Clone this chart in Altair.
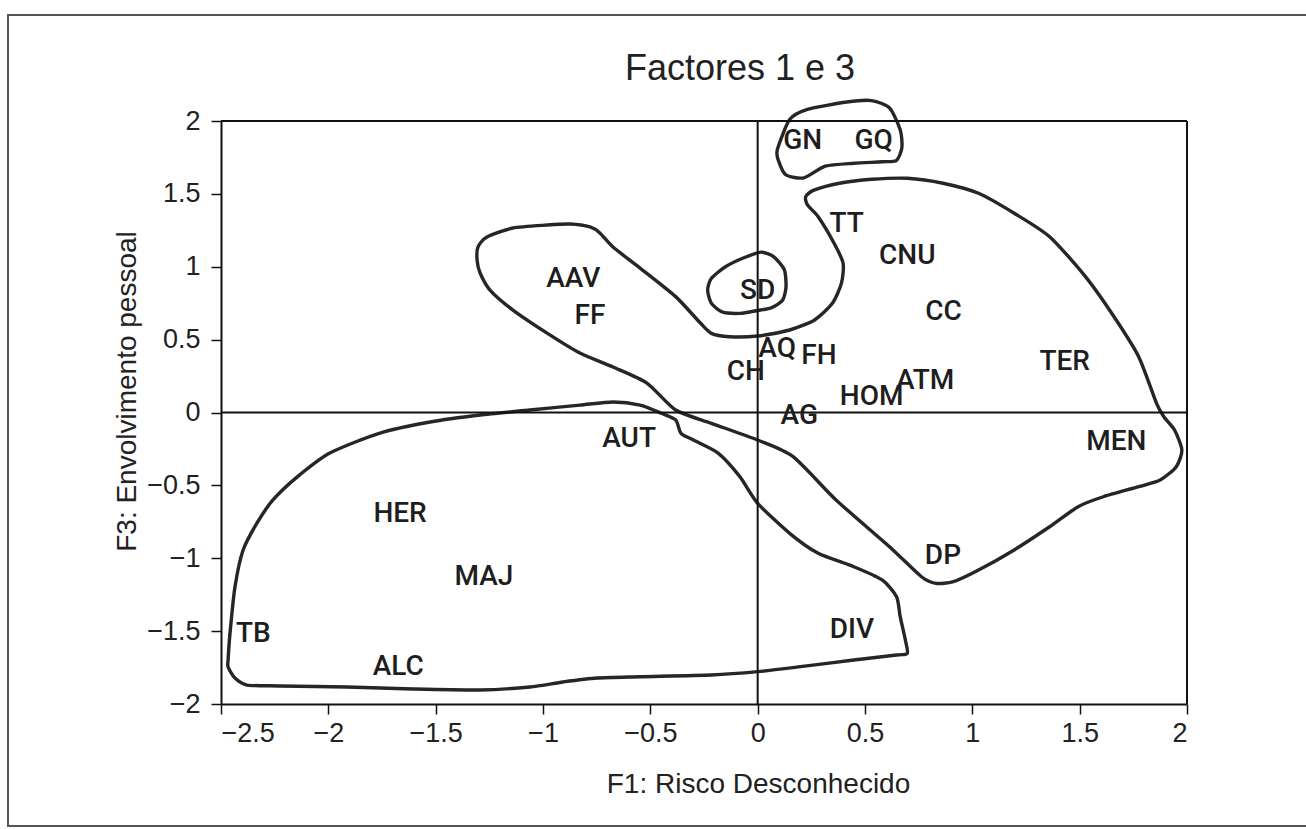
import altair as alt
import pandas as pd

# ---- point labels (F1, F3 coordinates) ----
labels = ["GN", "GQ", "TT", "CNU", "SD", "CC", "AQ", "FH", "CH", "TER", "ATM", "HOM",
          "AG", "MEN", "DP", "DIV", "AAV", "FF", "AUT", "HER", "MAJ", "TB", "ALC"]
f1 = [0.21, 0.54, 0.415, 0.697, 0.0, 0.866, 0.091, 0.285, -0.055, 1.43, 0.78, 0.531,
      0.194, 1.671, 0.863, 0.439, -0.859, -0.781, -0.599, -1.666, -1.275, -2.349, -1.674]
f3 = [1.864, 1.864, 1.293, 1.076, 0.836, 0.687, 0.436, 0.390, 0.276, 0.344, 0.218, 0.104,
      -0.022, -0.205, -0.982, -1.492, 0.916, 0.664, -0.182, -0.696, -1.131, -1.520, -1.748]

# ---- hand-drawn enclosures (F1, F3 coordinates) ----
gq_x = [0.091, 0.149, 0.232, 0.415, 0.531, 0.614, 0.664, 0.672, 0.647, 0.580, 0.448, 0.315, 0.215, 0.132, 0.099]
gq_y = [1.80, 2.01, 2.08, 2.13, 2.14, 2.09, 1.94, 1.82, 1.73, 1.72, 1.71, 1.69, 1.61, 1.63, 1.72]

sd_x = [-0.233, -0.216, -0.150, -0.067, 0.016, 0.074, 0.124, 0.132, 0.116, 0.066, 0.000, -0.083, -0.166, -0.216]
sd_y = [0.84, 0.92, 1.00, 1.06, 1.10, 1.07, 0.98, 0.86, 0.77, 0.72, 0.70, 0.68, 0.69, 0.75]

big_x = [-1.303, -1.261, -1.140, -0.981, -0.874, -0.781, -0.735, -0.674, -0.548, -0.382, -0.266, -0.216,
         -0.133, 0.000, 0.149, 0.265, 0.348, 0.390, 0.398, 0.356, 0.282, 0.232, 0.224, 0.265, 0.381,
         0.531, 0.697, 0.863, 1.029, 1.195, 1.360, 1.527, 1.660, 1.775, 1.858, 1.892, 1.942, 1.976,
         1.950, 1.875, 1.775, 1.610, 1.493, 1.360, 1.195, 1.029, 0.912, 0.830, 0.763, 0.614, 0.365,
         0.165, 0.000, -0.216, -0.382, -0.516, -0.674, -0.828, -0.981, -1.140, -1.247, -1.293, -1.307]
big_y = [1.135, 1.204, 1.266, 1.286, 1.293, 1.273, 1.232, 1.135, 0.991, 0.795, 0.612, 0.543,
         0.520, 0.525, 0.566, 0.635, 0.749, 0.886, 1.024, 1.161, 1.343, 1.424, 1.481, 1.527, 1.573,
         1.600, 1.607, 1.573, 1.504, 1.367, 1.206, 0.932, 0.657, 0.383, 0.063, -0.029, -0.120, -0.257,
         -0.372, -0.463, -0.509, -0.578, -0.646, -0.784, -0.943, -1.081, -1.161, -1.172, -1.127, -0.921, -0.600,
         -0.303, -0.189, -0.074, 0.017, 0.202, 0.312, 0.408, 0.545, 0.703, 0.840, 0.957, 1.046]

low_x = [-2.467, -2.458, -2.435, -2.397, -2.332, -2.258, -2.146, -1.993, -1.760, -1.526, -1.293, -1.061,
         -0.828, -0.674, -0.548, -0.449, -0.382, -0.357, -0.299, -0.183, -0.083, 0.000, 0.149, 0.282,
         0.448, 0.580, 0.647, 0.664, 0.688, 0.697, 0.647, 0.448, 0.199, 0.000, -0.216, -0.548, -0.749,
         -0.907, -1.061, -1.293, -1.605, -1.913, -2.225, -2.379, -2.435, -2.467]
low_y = [-1.698, -1.513, -1.197, -0.943, -0.758, -0.600, -0.443, -0.278, -0.141, -0.065, -0.017, 0.017,
         0.051, 0.072, 0.051, -0.005, -0.051, -0.143, -0.189, -0.280, -0.440, -0.623, -0.829, -0.966,
         -1.058, -1.149, -1.264, -1.401, -1.561, -1.652, -1.664, -1.698, -1.744, -1.778, -1.801, -1.813, -1.822,
         -1.849, -1.883, -1.904, -1.897, -1.883, -1.876, -1.870, -1.822, -1.746]

x_ticks = [-2.5, -2, -1.5, -1, -0.5, 0, 0.5, 1, 1.5, 2]
y_ticks = [-2, -1.5, -1, -0.5, 0, 0.5, 1, 1.5, 2]

title_text = "Factores 1 e 3"
x_title = "F1: Risco Desconhecido"
y_title = "F3: Envolvimento pessoal"

# ---- tables ----
pts = pd.DataFrame({"label": labels, "f1": f1, "f3": f3})
rows = []
for name, xs_, ys_ in [("gq", gq_x, gq_y), ("sd", sd_x, sd_y), ("big", big_x, big_y), ("low", low_x, low_y)]:
    for i, (a, b) in enumerate(zip(xs_, ys_)):
        rows.append({"grp": name, "i": i, "f1": a, "f3": b})
curves = pd.DataFrame(rows)
one = pd.DataFrame({"k": [0]})

W, H = 966, 583
L, T = 221, 121
FONT = "Liberation Sans, Arial, Helvetica, sans-serif"
LFONT = "Roboto, Liberation Sans, sans-serif"

xs = alt.Scale(domain=[-2.5, 2], nice=False, zero=False)
ys = alt.Scale(domain=[-2, 2], nice=False, zero=False)

xax = alt.Axis(values=x_ticks, format=".1~f", title=x_title, grid=False,
               labelFont=FONT, labelFontSize=27, labelColor="#222", labelPadding=6,
               tickSize=10, tickWidth=1.5, tickColor="#111", domainColor="#111", domainWidth=2,
               titleFont=FONT, titleFontSize=28, titleFontWeight="normal", titleColor="#222",
               titleX=537, titleY=88, titleBaseline="alphabetic", titleAlign="center")
yax = alt.Axis(values=y_ticks, format=".1~f", title=y_title, grid=False,
               labelFont=FONT, labelFontSize=27, labelColor="#222", labelPadding=11,
               tickSize=10, tickWidth=1.5, tickColor="#111", domainColor="#111", domainWidth=2,
               titleFont=FONT, titleFontSize=28, titleFontWeight="normal", titleColor="#222",
               titleX=-86, titleY=270, titleBaseline="alphabetic", titleAlign="center", titleAngle=270)

base_x = alt.X("f1:Q", scale=xs, axis=xax)
base_y = alt.Y("f3:Q", scale=ys, axis=yax)

lines = alt.Chart(curves).mark_line(
    interpolate="cardinal-closed", tension=0.3, stroke="#262626", strokeWidth=3.4, clip=False
).encode(x=base_x, y=base_y, detail="grp:N", order="i:Q")

# crosshair at 0 and closing frame lines at the top (F3=2) and right (F1=2)
vline = alt.Chart(one).mark_rule(stroke="#111", strokeWidth=2).encode(x=alt.datum(0, scale=xs))
hline = alt.Chart(one).mark_rule(stroke="#111", strokeWidth=2).encode(y=alt.datum(0, scale=ys))
rline = alt.Chart(one).mark_rule(stroke="#111", strokeWidth=2).encode(x=alt.datum(2, scale=xs))
tline = alt.Chart(one).mark_rule(stroke="#111", strokeWidth=2).encode(y=alt.datum(2, scale=ys))

text = alt.Chart(pts).mark_text(
    font=LFONT, fontSize=28, fontWeight=500, color="#1e1e1e", align="center", baseline="middle"
).encode(x=alt.X("f1:Q", scale=xs), y=alt.Y("f3:Q", scale=ys), text="label:N")

frame = alt.Chart(one).mark_rect(fillOpacity=0, stroke="#555", strokeWidth=2, clip=False).encode(
    x=alt.value(8 - L), x2=alt.value(1330 - L), y=alt.value(15 - T), y2=alt.value(826 - T)
)

chart = alt.layer(frame, lines, vline, hline, rline, tline, text).properties(
    width=W, height=H,
    title=alt.TitleParams(title_text, font=FONT, fontSize=36, fontWeight="normal", color="#222",
                          anchor="middle", frame="group", dx=36, dy=102, baseline="alphabetic", offset=0),
    padding={"left": L, "top": T, "right": 1306 - L - W, "bottom": 829 - T - H},
    autosize=alt.AutoSizeParams(type="none"),
).configure(background="white")

chart.save("out.html", embed_options={"renderer": "svg", "actions": False})
